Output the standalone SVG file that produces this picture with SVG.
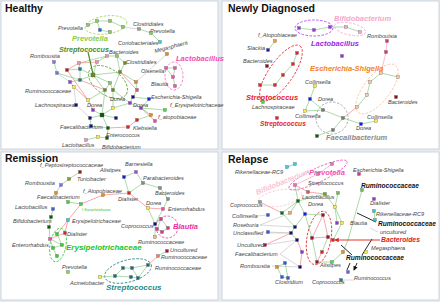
<svg xmlns="http://www.w3.org/2000/svg" xmlns:xlink="http://www.w3.org/1999/xlink" width="440" height="302" viewBox="0 0 440 302">
<style>
.panel{fill:#fff;stroke:#c3ceda;stroke-width:0.8}
.t{font:bold 10.5px "Liberation Sans",Arial,sans-serif;fill:#111}
.l{font:italic 5.6px "Liberation Sans",Arial,sans-serif;fill:#444}
.b{font:bold italic 7.5px "Liberation Sans",Arial,sans-serif}
.bk{font:bold italic 6.6px "Liberation Sans",Arial,sans-serif;fill:#111}
.g{fill:none;stroke:#86cc86;stroke-width:0.7}
.r{fill:none;stroke:#f08585;stroke-width:0.7}
.p{fill:none;stroke:#f6a0c0;stroke-width:0.7}
.y{fill:none;stroke:#b0b0b0;stroke-width:0.5}
.c{fill:none;stroke:#40c8d0;stroke-width:0.7}
.e{fill:none;stroke-width:0.8;stroke-dasharray:2.5 1.5}
use{stroke:#555;stroke-width:0.3}
</style>
<defs>
<rect id="sq" x="-1.5" y="-1.5" width="3" height="3"/>
<rect id="sqb" x="-2" y="-2" width="4" height="4"/>
<marker id="ak" viewBox="0 0 6 6" refX="5" refY="3" markerWidth="5" markerHeight="5" orient="auto"><path d="M0 0L6 3L0 6z" fill="#111"/></marker>
<marker id="ar" viewBox="0 0 6 6" refX="5" refY="3" markerWidth="5" markerHeight="5" orient="auto"><path d="M0 0L6 3L0 6z" fill="#e02020"/></marker>
</defs>
<rect width="440" height="302" fill="#e8ecf1"/>
<rect class="panel" x="1" y="1" width="217" height="148"/>
<rect class="panel" x="222" y="1" width="217" height="148"/>
<rect class="panel" x="1" y="152" width="217" height="148"/>
<rect class="panel" x="222" y="152" width="217" height="148"/>
<text class="t" x="5" y="12">Healthy</text>
<text class="t" x="228" y="12">Newly Diagnosed</text>
<text class="t" x="5" y="162">Remission</text>
<text class="t" x="228" y="163">Relapse</text>

<g id="clusters">
<ellipse class="e" stroke="#9ed35a" cx="106" cy="25" rx="21" ry="9" transform="rotate(-8 106 25)"/>
<ellipse class="e" stroke="#5a9a30" cx="108" cy="82" rx="22" ry="13" transform="rotate(35 108 82)"/>
<ellipse class="e" stroke="#f06ab8" cx="174" cy="76" rx="9" ry="14"/>
<ellipse class="e" stroke="#a030f0" cx="314" cy="28" rx="19" ry="8"/>
<ellipse class="e" stroke="#f7a6cc" cx="350" cy="29" rx="16" ry="6" transform="rotate(12 350 29)"/>
<ellipse class="e" stroke="#e8212b" cx="281" cy="73" rx="33" ry="12" transform="rotate(-55 281 73)"/>
<ellipse class="e" stroke="#f8c0a0" cx="377" cy="89" rx="30" ry="13" transform="rotate(-52 377 89)"/>
<circle class="e" stroke="#999" cx="332" cy="118" r="16"/>
<ellipse class="e" stroke="#22c322" cx="58" cy="245" rx="8" ry="17" transform="rotate(10 58 245)"/>
<circle class="e" stroke="#e8329e" cx="167" cy="227" r="11"/>
<ellipse class="e" stroke="#1b7c86" cx="128" cy="271" rx="24" ry="11" transform="rotate(-15 128 271)"/>
<ellipse class="e" stroke="#f9c4d6" cx="280" cy="198" rx="22" ry="8" transform="rotate(-10 280 198)"/>
<ellipse class="e" stroke="#f052b4" cx="318" cy="175" rx="32" ry="7" transform="rotate(-25 318 175)"/>
<ellipse class="e" stroke="#d42020" cx="319" cy="238" rx="12" ry="27" transform="rotate(10 319 238)"/>
</g>

<g id="connectors">
<path class="g" d="M54 62L57 73M67 70L80 69M79 63L80 69M80 69L80 80M80 69L93 75M80 80L70 82M70 82L74 87M79 63L107 56M97 62L107 56M107 56L117 56L125 63L120 72M93 75L120 72M93 75L105 90M93 75L110 83L105 90M110 83L113 90M120 72L113 90M120 72L136 82M105 90L88 100M105 90L102 115M113 90L130 103M113 90L113 108M93 110L102 115L90 118M102 115L108 128M102 115L116 118M90 118L91 126L108 128L107 138L98 137L86 140M137 120L151 115M130 103L141 108L151 115M141 108L165 110M130 103L133 97L137 90L136 82M133 97L149 99L141 108M113 108L130 103M113 108L102 115M93 75L97 62M117 56L120 72M57 73L80 80M80 80L93 75M88 25L97 21L100 30M97 21L110 21L123 27M100 30L110 32M139 29L151 33L160 42M166 68L175 68L173 77L175 86M166 68L173 77"/>
<path class="r" d="M67 70L79 63M74 87L88 100M79 63L97 62M80 80L105 90M67 70L88 100M88 100L93 110M108 128L128 127L137 120M141 108L155 121M120 72L137 90"/>
<path class="y" d="M57 73L70 82M136 82L167 54M123 27L139 29M74 87L76 105M76 105L90 118"/>
<path d="M88 52L93 74" stroke="#4e8a26" stroke-width="1.2" fill="none"/>

<path class="g" d="M299 28L314 30L330 27L346 27L360 32M275 41L268 50M297 53L293 64L283 75L275 85L260 85M315 86L310 99L305 111L323 110L343 118L333 130L317 136M310 99L323 110M343 118L361 124L376 121M357 107L367 95L370 82L381 73L398 77"/>
<path class="r" d="M343 118L357 107"/>
<path class="p" d="M381 73L386 52L387 41"/>

<path class="g" d="M80 172L69 179L61 185L56 193M68 202L81 204M129 193L124 177L136 172L143 183L129 193M143 183L160 188L168 199L163 209M148 208L155 224L163 209M155 224L161 219M155 224L155 237M161 219L168 228L162 232L157 229L161 219M53 209L51 217L49 227L50 239M158 256L167 251M148 265L132 268L123 268L115 276L131 277L138 278L148 265M132 268L138 278M115 276L100 277M57 234L62 245L53 248L57 256M50 239L62 245M50 239L53 248"/>
<path class="r" d="M81 204L103 195L129 193M129 193L148 208L163 209M81 204L68 220L65 233L50 239M68 220L57 234M158 256L148 265"/>

<path class="c" d="M287 167L295 164"/>
<path class="g" d="M295 185L298 201M298 201L282 213M298 201L290 213M298 201L305 214M298 201L325 194L335 207M282 213L295 227M305 214L295 227M305 214L323 215M335 207L342 223M335 207L337 223M342 223L333 240M312 238L317 262L332 262M322 252L328 237M362 190L355 215L348 240L343 252M277 267L285 263L288 278L282 277L277 267M338 193L335 207M295 227L291 233L297 240M305 214L312 238M343 252L332 262M374 211L375 220"/>
<path class="r" d="M295 185L308 192L325 194M297 240L302 252L300 267M291 233L265 245M312 238L328 237L333 240M323 215L312 238M323 215L328 237M322 252L317 262M260 202L282 213"/>
<path class="p" d="M295 185L318 174L332 164"/>
<path class="y" d="M257 216L268 215M260 225L290 213M260 225L295 227M265 233L291 233M268 232L291 233M265 245L297 240M280 254L297 240M280 254L300 267M272 266L300 267M341 280L354 280M370 228L378 232"/>
<path d="M376 222L357 213M352 255L341 245M362 255L372 239M350 263L347 270M357 263L354 270" stroke="#111" stroke-width="0.9" fill="none" marker-end="url(#ak)"/>
<path d="M380 240L335 240" stroke="#e02020" stroke-width="0.9" fill="none" marker-end="url(#ar)"/>
</g>

<g id="healthy-nodes">
<g id="h-romboustia"><text class="l" x="30" y="58">Romboustia</text><use href="#sq" x="54" y="62" fill="#8a6fe0"/></g>
<g id="h-n2"><use href="#sq" x="57" y="73" fill="#7a6ff0"/></g>
<g id="h-n3"><use href="#sq" x="67" y="70" fill="#b01a1a"/></g>
<g id="h-n4"><use href="#sq" x="79" y="63" fill="#f58fb5"/></g>
<g id="h-n5"><use href="#sq" x="80" y="69" fill="#1f7a8c"/></g>
<g id="h-n6"><use href="#sq" x="80" y="80" fill="#1f7a8c"/></g>
<g id="h-ruminococcaceae"><text class="l" x="25" y="93">Ruminococcaceae</text><use href="#sq" x="70" y="82" fill="#8f3fe0"/></g>
<g id="h-n8"><use href="#sq" x="74" y="87" fill="#f7f03a"/></g>
<g id="h-n9"><use href="#sq" x="88" y="100" fill="#f7f03a"/></g>
<g id="h-lachnospiraceae"><text class="l" x="35" y="107">Lachnospiraceae</text><use href="#sq" x="76" y="105" fill="#101080"/></g>
<g id="h-streptococcus"><text class="b" x="59" y="52" fill="#4e8a26" style="font-size:7.2px">Streptococcus</text><use href="#sqb" x="93" y="75" fill="#6b8a1f"/></g>
<g id="h-n13"><use href="#sq" x="97" y="62" fill="#f58fb5"/></g>
<g id="h-bacteroides"><text class="l" x="109" y="54">Bacteroides</text><use href="#sq" x="107" y="56" fill="#f58fb5"/></g>
<g id="h-n15"><use href="#sq" x="117" y="56" fill="#8cc46a"/></g>
<g id="h-clostridiales2"><text class="l" x="126" y="64">Clostridiales</text><use href="#sq" x="125" y="63" fill="#6b8a1f"/></g>
<g id="h-n17"><use href="#sq" x="120" y="72" fill="#6b8a1f"/></g>
<g id="h-n18"><use href="#sq" x="105" y="90" fill="#6b8a1f"/></g>
<g id="h-n19"><use href="#sq" x="113" y="90" fill="#6b8a1f"/></g>
<g id="h-n20"><use href="#sq" x="110" y="83" fill="#8cc46a"/></g>
<g id="h-olsenella"><text class="l" x="141" y="73">Olsenella</text><use href="#sq" x="136" y="82" fill="#e08a20"/></g>
<g id="h-blautia"><text class="l" x="151" y="86">Blautia</text><use href="#sq" x="137" y="90" fill="#e0508a"/></g>
<g id="h-n23"><use href="#sq" x="133" y="97" fill="#101080"/></g>
<g id="h-escherichia"><text class="l" x="151" y="99">Escherichia-Shigella</text><use href="#sq" x="149" y="99" fill="#1a1af0"/></g>
<g id="h-dorea1"><text class="l" x="110" y="101">Dorea</text><use href="#sq" x="130" y="103" fill="#9a30d0"/></g>
<g id="h-n26"><use href="#sq" x="113" y="108" fill="#f7f03a"/></g>
<g id="h-dorea2"><text class="l" x="133" y="107">Dorea</text><use href="#sq" x="141" y="108" fill="#9a30d0"/></g>
<g id="h-n28"><use href="#sq" x="155" y="121" fill="#e0508a"/></g>
<g id="h-erysipelotrichaceae"><text class="l" x="170" y="107">f_Erysipelotrichaceae</text><use href="#sq" x="165" y="110" fill="#40e040"/></g>
<g id="h-atopobiaceae"><text class="l" x="158" y="119">f_atopobiaceae</text><use href="#sq" x="151" y="115" fill="#f08a10"/></g>
<g id="h-n31"><use href="#sq" x="137" y="120" fill="#e02020"/></g>
<g id="h-klebsiella"><text class="l" x="133" y="130">Klebsiella</text><use href="#sq" x="128" y="127" fill="#e02020"/></g>
<g id="h-n33"><use href="#sq" x="116" y="118" fill="#101080"/></g>
<g id="h-n34"><use href="#sqb" x="102" y="115" fill="#0a5a0a"/></g>
<g id="h-n35"><use href="#sq" x="90" y="118" fill="#101080"/></g>
<g id="h-dorea3"><text class="l" x="87" y="107">Dorea</text><use href="#sq" x="93" y="110" fill="#9a30d0"/></g>
<g id="h-faecalibacterium"><text class="l" x="60" y="129">Faecalibacterium</text><use href="#sq" x="91" y="126" fill="#101080"/></g>
<g id="h-n38"><use href="#sq" x="108" y="128" fill="#0a5a0a"/></g>
<g id="h-enterococcus"><text class="l" x="106" y="137">Enterococcus</text><use href="#sq" x="107" y="138" fill="#0a5a0a"/></g>
<g id="h-bifidobacterium"><text class="l" x="102" y="148.5">Bifidobacterium</text><use href="#sq" x="98" y="137" fill="#f7f03a"/></g>
<g id="h-lactobacillus"><text class="l" x="62" y="146.5">Lactobacillus</text><use href="#sq" x="86" y="140" fill="#f58fb5"/></g>
<g id="h-prevotella-cluster"><text class="l" x="58" y="30">Prevotella</text><text class="b" x="72" y="41" fill="#8ccc3c">Prevotella</text>
<use href="#sq" x="88" y="25" fill="#8cc46a"/><use href="#sq" x="97" y="21" fill="#8cc46a"/><use href="#sq" x="100" y="30" fill="#2a5ae0"/><use href="#sq" x="110" y="21" fill="#8cc46a"/><use href="#sq" x="123" y="27" fill="#8cc46a"/><use href="#sq" x="110" y="32" fill="#8cc46a"/></g>
<g id="h-clostridiales"><text class="l" x="133" y="26">Clostridiales</text><use href="#sq" x="139" y="29" fill="#999"/></g>
<g id="h-prevotella"><text class="l" x="150" y="33">Prevotella</text><use href="#sq" x="151" y="33" fill="#8cc46a"/></g>
<g id="h-coriobacteriales"><text class="l" x="118" y="45">Coriobacteriales</text><use href="#sq" x="160" y="42" fill="#30d0e0"/></g>
<g id="h-megasphaera"><text class="l" x="155" y="53" transform="rotate(-15 155 53)">Megasphaera</text><use href="#sq" x="167" y="54" fill="#e08a20"/></g>
<g id="h-lactobacillus-cluster"><text class="b" x="176" y="61" fill="#f050a8">Lactobacillus</text>
<use href="#sq" x="166" y="68" fill="#f050a8"/><use href="#sq" x="175" y="68" fill="#f050a8"/><use href="#sq" x="173" y="77" fill="#f050a8"/><use href="#sq" x="175" y="86" fill="#f050a8"/></g>
</g>

<g id="nd-nodes">
<g id="nd-lactobacillus"><text class="b" x="311" y="46" fill="#9a2be0">Lactobacillus</text><use href="#sq" x="299" y="28" fill="#a030f0"/><use href="#sq" x="314" y="30" fill="#a030f0"/><use href="#sq" x="330" y="27" fill="#a030f0"/></g>
<g id="nd-bifidobacterium"><text class="b" x="334" y="21" fill="#f7a6cc">Bifidobacterium</text><use href="#sq" x="346" y="27" fill="#f7a6cc"/><use href="#sq" x="360" y="32" fill="#f7a6cc"/></g>
<g id="nd-atopobiaceae"><text class="l" x="258" y="37">f_Atopobiaceae</text><use href="#sq" x="275" y="41" fill="#f0a020"/></g>
<g id="nd-slackia"><text class="l" x="247" y="50">Slackia</text><use href="#sq" x="268" y="50" fill="#1a1ab0"/></g>
<g id="nd-bacteroides"><text class="l" x="243" y="63">Bacteroides</text><use href="#sq" x="267" y="66" fill="#8a1010"/></g>
<g id="nd-streptococcus"><text class="b" x="246" y="100" fill="#e8212b">Streptococcus</text><use href="#sq" x="297" y="53" fill="#e8212b"/><use href="#sq" x="293" y="64" fill="#e8212b"/><use href="#sq" x="283" y="75" fill="#e8212b"/><use href="#sq" x="275" y="85" fill="#e8212b"/><use href="#sq" x="260" y="85" fill="#e8212b"/></g>
<g id="nd-lachnospiraceae"><text class="l" x="252" y="109">Lachnospiraceae</text><use href="#sq" x="263" y="102" fill="#40e040"/></g>
<g id="nd-streptococcus2"><text class="b" x="260" y="126" fill="#e8212b" style="font-size:6.6px">Streptococcus</text><use href="#sq" x="277" y="118" fill="#e8212b"/></g>
<g id="nd-escherichia"><text class="b" x="310" y="71" fill="#f5811f">Escherichia-Shigella</text><use href="#sq" x="357" y="107" fill="#f8c8a8"/><use href="#sq" x="367" y="95" fill="#f8c8a8"/><use href="#sq" x="370" y="82" fill="#f8c8a8"/><use href="#sq" x="381" y="73" fill="#f8c8a8"/><use href="#sq" x="398" y="77" fill="#f8c8a8"/></g>
<g id="nd-collinsella1"><text class="l" x="305" y="84">Collinsella</text><use href="#sq" x="315" y="86" fill="#f7f03a"/></g>
<g id="nd-dorea1"><text class="l" x="318" y="101">Dorea</text><use href="#sq" x="310" y="99" fill="#1a1af0"/></g>
<g id="nd-collinsella2"><text class="l" x="295" y="118">Collinsella</text><use href="#sq" x="305" y="111" fill="#f7f03a"/></g>
<g id="nd-faecalibacterium"><text class="b" x="326" y="140" fill="#8a8a8a">Faecalibacterium</text><use href="#sq" x="323" y="110" fill="#777"/><use href="#sq" x="343" y="118" fill="#777"/><use href="#sq" x="333" y="130" fill="#777"/></g>
<g id="nd-n17"><use href="#sq" x="317" y="136" fill="#0a5a0a"/></g>
<g id="nd-dorea2"><text class="l" x="356" y="130">Dorea</text><use href="#sq" x="361" y="124" fill="#1a1af0"/></g>
<g id="nd-collinsella3"><text class="l" x="367" y="119">Collinsella</text><use href="#sq" x="376" y="121" fill="#f7f03a"/></g>
<g id="nd-romboutsia"><text class="l" x="367" y="38">Romboutsia</text><use href="#sq" x="387" y="41" fill="#e0307a"/><use href="#sq" x="386" y="52" fill="#e0307a"/></g>
<g id="nd-bacteroides2"><text class="l" x="388" y="104">Bacteroides</text><use href="#sq" x="396" y="97" fill="#8a1010"/></g>
<g id="nd-n22"><use href="#sq" x="342" y="56" fill="#9a30d0"/></g>
</g>

<g id="rem-nodes">
<g id="r-peptostreptococcaceae"><text class="l" x="40" y="167">f_Peptostreptococcaceae</text><use href="#sq" x="80" y="172" fill="#a01818"/></g>
<g id="r-turicibacter"><text class="l" x="77" y="181">Turicibacter</text><use href="#sq" x="69" y="179" fill="#8a9a20"/></g>
<g id="r-romboustia"><text class="l" x="25" y="185">Romboustia</text><use href="#sq" x="61" y="185" fill="#7a6ff0"/></g>
<g id="r-faecalibacterium"><text class="l" x="37" y="199">Faecalibacterium</text><use href="#sq" x="56" y="193" fill="#e08a20"/></g>
<g id="r-atopobiaceae"><text class="l" x="83" y="193">f_Atopobiaceae</text><use href="#sq" x="103" y="195" fill="#f08a10"/></g>
<g id="r-n6"><use href="#sq" x="68" y="202" fill="#40d040"/></g>
<g id="r-f-erysipelotrichaceae"><text x="82" y="211" style="font:italic 3px 'Liberation Sans',sans-serif;fill:#22c322">f_Erysipelotrichaceae</text><use href="#sq" x="81" y="204" fill="#40d040"/></g>
<g id="r-lactobacillus"><text class="l" x="15" y="209">Lactobacillus</text><use href="#sq" x="53" y="209" fill="#3a5ae0"/></g>
<g id="r-bifidobacterium"><text class="l" x="13" y="223">Bifidobacterium</text><use href="#sq" x="51" y="217" fill="#0a5a0a"/><use href="#sq" x="49" y="227" fill="#0a5a0a"/></g>
<g id="r-erysipelotrichaceae"><text class="l" x="72" y="223">Erysipelotrichaceae</text><use href="#sq" x="68" y="220" fill="#30c8d8"/></g>
<g id="r-dialister"><text class="l" x="67" y="236">Dialister</text><use href="#sq" x="65" y="233" fill="#e02020"/></g>
<g id="r-enterorhabdus"><text class="l" x="12" y="247">Enterorhabdus</text><use href="#sq" x="50" y="239" fill="#f050a8"/></g>
<g id="r-erysipelotrichaceae-cluster"><text class="b" x="66" y="250" fill="#22c322" style="font-size:8px">Erysipelotrichaceae</text><use href="#sq" x="57" y="234" fill="#30d030"/><use href="#sq" x="62" y="245" fill="#30d030"/><use href="#sq" x="53" y="248" fill="#30d030"/><use href="#sq" x="57" y="256" fill="#30d030"/></g>
<g id="r-alistipes"><text class="l" x="100" y="172">Alistipes</text><use href="#sq" x="124" y="177" fill="#1a1ad0"/></g>
<g id="r-barnesiella"><text class="l" x="125" y="166">Barnesiella</text><use href="#sq" x="136" y="172" fill="#9a50e0"/></g>
<g id="r-parabacteroides"><text class="l" x="143" y="180">Parabacteroides</text><use href="#sq" x="143" y="183" fill="#888"/></g>
<g id="r-dialister2"><text class="l" x="118" y="201">Dialister</text><use href="#sq" x="129" y="193" fill="#e02020"/></g>
<g id="r-bacteroides"><text class="l" x="155" y="195">Bacteroides</text><use href="#sq" x="160" y="188" fill="#888"/><use href="#sq" x="168" y="199" fill="#888"/></g>
<g id="r-dorea"><text class="l" x="146" y="205">Dorea</text><use href="#sq" x="148" y="208" fill="#f7f03a"/></g>
<g id="r-enterorhabdus2"><text class="l" x="168" y="211">Enterorhabdus</text><use href="#sq" x="163" y="209" fill="#f050a8"/></g>
<g id="r-coprococcus"><text class="l" x="121" y="228">Coprococcus</text><use href="#sq" x="155" y="224" fill="#101080"/></g>
<g id="r-blautia"><text class="b" x="173" y="229" fill="#e8329e">Blautia</text><use href="#sq" x="161" y="219" fill="#e0308a"/><use href="#sq" x="168" y="228" fill="#e0308a"/><use href="#sq" x="162" y="232" fill="#e0308a"/><use href="#sq" x="157" y="229" fill="#e0308a"/></g>
<g id="r-ruminococcaceae1"><text class="l" x="138" y="244">Ruminococcaceae</text><use href="#sq" x="155" y="237" fill="#f5b080"/></g>
<g id="r-uncultured"><text class="l" x="170" y="252">Uncultured</text><use href="#sq" x="167" y="251" fill="#b01050"/></g>
<g id="r-ruminococcaceae2"><text class="l" x="161" y="259">Ruminococcaceae</text><use href="#sq" x="158" y="256" fill="#f08060"/></g>
<g id="r-ruminococcaceae3"><text class="l" x="155" y="270">Ruminococcaceae</text><use href="#sq" x="148" y="265" fill="#1a6a7a"/></g>
<g id="r-streptococcus"><text class="b" x="106" y="290" fill="#1b8c8c" style="font-size:8px">Streptococcus</text><use href="#sq" x="115" y="276" fill="#1a6a7a"/><use href="#sq" x="123" y="268" fill="#1a6a7a"/><use href="#sq" x="132" y="268" fill="#1a6a7a"/><use href="#sq" x="138" y="278" fill="#1a6a7a"/><use href="#sq" x="131" y="277" fill="#1a6a7a"/></g>
<g id="r-prevotella"><text class="l" x="62" y="269">Prevotella</text><use href="#sq" x="68" y="272" fill="#90d040"/></g>
<g id="r-acinetobacter"><text class="l" x="70" y="285">Acinetobacter</text><use href="#sq" x="100" y="277" fill="#f7f03a"/></g>
</g>

<g id="rel-nodes">
<g id="l-rikenellaceae"><text class="l" x="235" y="174">Rikenellaceae-RC9</text><use href="#sq" x="287" y="167" fill="#30d0e0"/><use href="#sq" x="295" y="164" fill="#30d0e0"/></g>
<g id="l-bifidobacterium"><text class="b" x="257" y="195" fill="#f9c4d6" transform="rotate(-22 257 195)">Bifidobacterium</text></g>
<g id="l-prevotella"><text class="b" x="309" y="175" fill="#f052b4">Prevotella</text><use href="#sq" x="295" y="185" fill="#f06ab8"/><use href="#sq" x="318" y="174" fill="#f06ab8"/><use href="#sq" x="332" y="164" fill="#f06ab8"/></g>
<g id="l-streptococcus"><text class="l" x="308" y="185">Streptococcus</text><use href="#sq" x="308" y="192" fill="#e05050"/></g>
<g id="l-escherichia"><text class="l" x="353" y="172">Escherichia-Shigella</text><use href="#sq" x="359" y="174" fill="#e0307a"/></g>
<g id="l-ruminococcaceae-top"><text class="bk" x="361" y="188">Ruminococcaceae</text><use href="#sq" x="362" y="190" fill="#70c040"/></g>
<g id="l-lactobacillus"><text class="l" x="302" y="199">Lactobacillus</text><use href="#sq" x="325" y="194" fill="#7a9a20"/></g>
<g id="l-dorea"><text class="l" x="308" y="206">Dorea</text><use href="#sq" x="305" y="214" fill="#1a1af0"/></g>
<g id="l-n1"><use href="#sq" x="298" y="201" fill="#0a6e0a"/></g>
<g id="l-n2"><use href="#sq" x="282" y="213" fill="#0a6e0a"/></g>
<g id="l-n3"><use href="#sq" x="290" y="213" fill="#f4a460"/></g>
<g id="l-n4"><use href="#sq" x="338" y="193" fill="#70c040"/></g>
<g id="l-n5"><use href="#sq" x="335" y="207" fill="#f7f03a"/></g>
<g id="l-n6"><use href="#sq" x="323" y="215" fill="#a01030"/></g>
<g id="l-blautia"><text class="l" x="350" y="225">Blautia</text><use href="#sq" x="337" y="223" fill="#9a30d0"/><use href="#sq" x="342" y="223" fill="#f7f03a"/></g>
<g id="l-n8"><use href="#sq" x="295" y="227" fill="#101080"/></g>
<g id="l-n9"><use href="#sq" x="291" y="233" fill="#101080"/></g>
<g id="l-n10"><use href="#sq" x="297" y="240" fill="#101080"/></g>
<g id="l-n11"><use href="#sq" x="312" y="238" fill="#a01030"/></g>
<g id="l-n12"><use href="#sq" x="328" y="237" fill="#a01030"/></g>
<g id="l-n13"><use href="#sq" x="333" y="240" fill="#e02020"/></g>
<g id="l-n14"><use href="#sq" x="302" y="252" fill="#9a30d0"/></g>
<g id="l-n15"><use href="#sq" x="300" y="267" fill="#101080"/></g>
<g id="l-n16"><use href="#sq" x="322" y="252" fill="#e02020"/></g>
<g id="l-n17"><use href="#sq" x="317" y="262" fill="#a01030"/></g>
<g id="l-alistipes"><text class="l" x="320" y="267">Alistipes</text><use href="#sq" x="332" y="262" fill="#40e040"/></g>
<g id="l-n19"><use href="#sq" x="343" y="252" fill="#f08a10"/></g>
<g id="l-ruminococcus"><text class="l" x="354" y="280">Ruminococcus</text><use href="#sq" x="341" y="280" fill="#1a7a8a"/></g>
<g id="l-n21"><use href="#sq" x="348" y="272" fill="#6a5af0"/></g>
<g id="l-dialister"><text class="l" x="370" y="205">Dialister</text><use href="#sq" x="374" y="199" fill="#9a30d0"/></g>
<g id="l-rikenellaceae2"><text class="l" x="376" y="216">Rikenellaceae-RC9</text><use href="#sq" x="374" y="211" fill="#30c8e0"/><use href="#sq" x="375" y="220" fill="#30c8e0"/></g>
<g id="l-ruminococcaceae-mid"><text class="bk" x="378" y="226">Ruminococcaceae</text></g>
<g id="l-uncultured2"><text class="l" x="380" y="234">uncultured</text></g>
<g id="l-bacteroides"><text class="b" x="381" y="242" fill="#e02020" style="font-size:6.8px">Bacteroides</text></g>
<g id="l-megasphaera"><text class="l" x="371" y="250">Megasphaera</text><use href="#sq" x="366" y="252" fill="#f7f03a"/></g>
<g id="l-ruminococcaceae-low"><text class="bk" x="346" y="260">Ruminococcaceae</text></g>
<g id="l-coprococcus"><text class="l" x="230" y="207">Coprococcus</text><use href="#sq" x="260" y="202" fill="#999"/></g>
<g id="l-collinsella"><text class="l" x="232" y="218">Collinsella</text><use href="#sq" x="268" y="215" fill="#2a5ae0"/></g>
<g id="l-roseburia"><text class="l" x="233" y="227">Roseburia</text></g>
<g id="l-unclassified"><text class="l" x="233" y="235">Unclassified</text><use href="#sq" x="268" y="232" fill="#2a5ae0"/></g>
<g id="l-uncultured"><text class="l" x="237" y="247">Uncultured</text><use href="#sq" x="265" y="245" fill="#b01050"/></g>
<g id="l-faecalibacterium"><text class="l" x="235" y="256">Faecalibacterium</text></g>
<g id="l-romboustia"><text class="l" x="240" y="268">Romboustia</text><use href="#sq" x="277" y="267" fill="#e09020"/></g>
<g id="l-clostridium"><text class="l" x="275" y="284">Clostridium</text><use href="#sq" x="285" y="263" fill="#2a5ae0"/><use href="#sq" x="288" y="278" fill="#2a5ae0"/><use href="#sq" x="282" y="277" fill="#2a5ae0"/></g>
<g id="l-coprococcus2"><text class="l" x="312" y="284">Coprococcus</text></g>
</g>
</svg>
